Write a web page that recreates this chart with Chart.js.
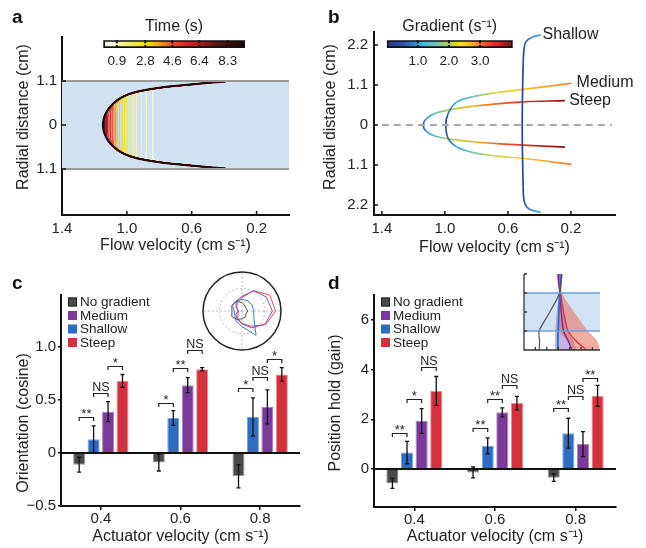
<!DOCTYPE html>
<html>
<head>
<meta charset="utf-8">
<script src="https://cdn.jsdelivr.net/npm/chart.js@4.4.1/dist/chart.umd.min.js"></script>
<style>
body { margin: 0; background: #fff; }
#fig { position: relative; width: 646px; height: 548px; overflow: hidden; font-family: "Liberation Sans", Arial, sans-serif; }
canvas { position: absolute; }
.lbl { position: absolute; font-weight: bold; font-size: 19px; line-height: 19px; color: #111; }
</style>
</head>
<body>
<div id="fig">
  <canvas id="chartA" width="320" height="270" style="left:0;top:0"></canvas>
  <canvas id="chartB" width="336" height="270" style="left:310px;top:0"></canvas>
  <canvas id="chartC" width="320" height="278" style="left:0;top:270px"></canvas>
  <canvas id="chartD" width="336" height="278" style="left:310px;top:270px"></canvas>
  <canvas id="barA" width="170" height="56" style="left:90px;top:14px"></canvas>
  <canvas id="barB" width="160" height="56" style="left:370px;top:14px"></canvas>
  <canvas id="polarC" width="84" height="84" style="left:200px;top:269px"></canvas>
  <canvas id="insetD" width="92" height="90" style="left:514px;top:266px"></canvas>
  <div class="lbl" style="left:12px;top:7px">a</div>
  <div class="lbl" style="left:328px;top:7px">b</div>
  <div class="lbl" style="left:12px;top:273px">c</div>
  <div class="lbl" style="left:328px;top:273px">d</div>
</div>
<script>
// ---- panel a: velocity profiles over time
const timeSteps = [0.3, 0.6, 0.9, 1.2, 1.5, 1.8, 2.1, 2.4, 2.7, 3.0, 3.4, 3.8, 4.2, 4.6, 5.0, 5.5, 6.0, 6.5, 7.0, 7.6, 8.3, 9.0];
const frontVel = [0.84, 0.88, 0.91, 0.94, 0.96, 0.98, 1.0, 1.015, 1.03, 1.045, 1.06, 1.07, 1.08, 1.09, 1.10, 1.11, 1.12, 1.125, 1.13, 1.138, 1.143, 1.15];
const profileR = [1.09, 1.02, 0.93, 0.83, 0.71, 0.54, 0.33, 0.15, 0, -0.15, -0.33, -0.54, -0.71, -0.83, -0.93, -1.02, -1.09];
const profileV = [0.39, 0.59, 0.80, 0.94, 1.023, 1.084, 1.125, 1.143, 1.148, 1.143, 1.125, 1.084, 1.023, 0.94, 0.80, 0.59, 0.39];
const timeTicks = [0.9, 2.8, 4.6, 6.4, 8.3];
const velTicks = [1.4, 1.0, 0.6, 0.2];

// ---- panel b: gradient profiles
const shallowR = [2.48, 2.41, 2.29, 2.06, 1.7, 0, -1.7, -2.06, -2.25, -2.34, -2.4];
const shallowV = [0.39, 0.45, 0.486, 0.498, 0.503, 0.509, 0.503, 0.498, 0.481, 0.45, 0.39];
const shallowG = [1.15, 0.9, 0.6, 0.35, 0.3, 0.3, 0.3, 0.35, 0.6, 0.9, 1.15];
const mediumR = [1.15, 0.98, 0.89, 0.78, 0.63, 0.32, 0, -0.37, -0.6, -0.76, -0.85, -0.92, -1.08];
const mediumV = [0.196, 0.503, 0.672, 0.82, 0.926, 0.979, 0.994, 0.979, 0.926, 0.82, 0.672, 0.503, 0.196];
const mediumG = [3.0, 2.55, 2.2, 1.6, 1.1, 0.6, 0.4, 0.6, 1.1, 1.6, 2.2, 2.55, 3.0];
const steepR = [0.67, 0.64, 0.58, 0.52, 0.41, 0.32, 0.18, 0, -0.18, -0.30, -0.38, -0.46, -0.51, -0.55, -0.61];
const steepV = [0.238, 0.503, 0.672, 0.82, 0.979, 1.063, 1.116, 1.138, 1.116, 1.063, 0.979, 0.82, 0.672, 0.503, 0.238];
const steepG = [4.0, 3.4, 3.1, 2.7, 2.0, 1.4, 1.0, 0.5, 1.0, 1.4, 2.0, 2.7, 3.1, 3.4, 4.0];
const gradTicks = [1.0, 2.0, 3.0];

// ---- panels c, d: bars
const speedLabels = ['0.4', '0.6', '0.8'];
const seriesNames = ['No gradient', 'Shallow', 'Medium', 'Steep'];
const orientNoGrad = [-0.11, -0.09, -0.22];
const orientShallow = [0.13, 0.33, 0.34];
const orientMedium = [0.39, 0.64, 0.435];
const orientSteep = [0.68, 0.79, 0.74];
const orientErrNoGrad = [0.07, 0.08, 0.11];
const orientErrShallow = [0.125, 0.07, 0.18];
const orientErrMedium = [0.095, 0.07, 0.16];
const orientErrSteep = [0.06, 0.015, 0.065];
// [category, left series, right series, bracket height, label]
const orientSig = [[0, 0, 1, 0.34, '**'], [0, 1, 2, 0.57, 'NS'], [0, 2, 3, 0.82, '*'],
                   [1, 0, 1, 0.47, '*'], [1, 1, 2, 0.80, '**'], [1, 2, 3, 0.97, 'NS'],
                   [2, 0, 1, 0.61, '*'], [2, 1, 2, 0.72, 'NS'], [2, 2, 3, 0.89, '*']];
const holdNoGrad = [-0.58, -0.14, -0.35];
const holdShallow = [0.66, 0.93, 1.44];
const holdMedium = [1.93, 2.28, 1.0];
const holdSteep = [3.14, 2.65, 2.94];
const holdErrNoGrad = [0.2, 0.22, 0.15];
const holdErrShallow = [0.45, 0.32, 0.6];
const holdErrMedium = [0.5, 0.18, 0.5];
const holdErrSteep = [0.58, 0.27, 0.42];
const holdSig = [[0, 0, 1, 1.44, '**'], [0, 1, 2, 2.82, '*'], [0, 2, 3, 4.1, 'NS'],
                 [1, 0, 1, 1.64, '**'], [1, 1, 2, 2.82, '**'], [1, 2, 3, 3.38, 'NS'],
                 [2, 0, 1, 2.44, '**'], [2, 1, 2, 2.95, 'NS'], [2, 2, 3, 3.65, '**']];

// ---- inset c: orientation distributions (clockwise from right)
const polarDirs = ['0', '-30', '-60', '-90', '-120', '-150', '180', '150', '120', '90', '60', '30'];
const polarNoGrad = [0.15, 0.12, 0.18, 0.2, 0.25, 0.3, 0.26, 0.3, 0.28, 0.22, 0.15, 0.12];
const polarShallow = [0.3, 0.35, 0.72, 0.4, 0.3, 0.22, 0.2, 0.28, 0.3, 0.3, 0.3, 0.3];
const polarMedium = [0.78, 0.68, 0.5, 0.33, 0.25, 0.18, 0.1, 0.15, 0.25, 0.35, 0.6, 0.72];
const polarSteep = [0.86, 0.7, 0.45, 0.32, 0.22, 0.12, 0.08, 0.18, 0.3, 0.38, 0.6, 0.82];

// ---- inset d: tracks
const insetY = [0, 0.5, 1, 2, 3, 3.5, 4];
const trackNoGrad = [2.0, 2.05, 2.0, 3.4, 4.7, 4.85, 5.0];
const trackShallow = [4.45, 4.45, 4.5, 4.6, 4.7, 4.8, 4.9];
const trackMedium = [6.3, 5.8, 5.2, 4.9, 4.75, 4.6, 4.5];
const trackSteep = [8.2, 6.8, 5.8, 5.2, 4.8, 4.8, 4.7];
const bandMediumLo = [4.1, 4.1, 4.1, 4.3, 4.6, 4.4, 4.3];
const bandMediumHi = [6.9, 6.5, 5.8, 5.4, 4.9, 4.8, 4.7];
const bandSteepLo = [6.5, 5.6, 4.7, 4.7, 4.6, 4.5, 4.5];
const bandSteepHi = [10, 9.6, 8.4, 6.6, 5.0, 5.0, 5.0];

const FONT = '"Liberation Sans", Arial, Helvetica, sans-serif';
Chart.defaults.font.family = FONT;
Chart.defaults.font.size = 15;
Chart.defaults.color = '#222';
Chart.defaults.animation = false;
Chart.defaults.responsive = false;
Chart.defaults.events = [];
Chart.defaults.plugins.legend.display = false;
Chart.defaults.plugins.tooltip.enabled = false;
Chart.defaults.elements.point.radius = 0;

const hotStops = [[0, '#ffffff'], [0.9, '#fbf4b8'], [1.9, '#f4ea5a'], [2.8, '#f1e000'], [3.6, '#f6ad17'],
  [4.6, '#ea4d23'], [5.5, '#dc2227'], [6.4, '#b01c1f'], [7.5, '#621214'], [9.45, '#140606']];
const jetStops = [[0, '#283382'], [0.5, '#2c4fa6'], [0.9, '#3a8ad6'], [1.2, '#44bce9'], [1.6, '#72c7b1'],
  [2.0, '#aed24b'], [2.4, '#f3e11c'], [2.8, '#f8a52a'], [3.2, '#ef4b2c'], [3.6, '#d32127'], [4.05, '#7c1416']];

function hexRgb(h) { return [1, 3, 5].map(i => parseInt(h.slice(i, i + 2), 16)); }
function mapColor(stops, v) {
  if (v <= stops[0][0]) return stops[0][1];
  for (let i = 1; i < stops.length; i++) {
    if (v <= stops[i][0]) {
      const t = (v - stops[i - 1][0]) / (stops[i][0] - stops[i - 1][0]);
      const a = hexRgb(stops[i - 1][1]), b = hexRgb(stops[i][1]);
      return 'rgb(' + a.map((c, k) => Math.round(c + (b[k] - c) * t)).join(',') + ')';
    }
  }
  return stops[stops.length - 1][1];
}
function fixTicks(vals) { return s => { s.ticks = vals.map(v => ({ value: v })); }; }
function axisTitle(text, pad) { return { display: true, text: text, font: { size: 16 }, color: '#222', padding: pad }; }

// rotated y-axis title, centred where the figure puts it
function yTitle(text, cx, cy) {
  return {
    id: 'yTitle',
    afterDraw(chart) {
      const ctx = chart.ctx;
      ctx.save();
      ctx.translate(cx, cy); ctx.rotate(-Math.PI / 2);
      ctx.font = '16px ' + FONT; ctx.fillStyle = '#222'; ctx.textAlign = 'center'; ctx.textBaseline = 'middle';
      ctx.fillText(text, 0, 0);
      ctx.restore();
    }
  };
}

// small inward tick marks (and optional axis lines)
function innerTicks(o) {
  return {
    id: 'innerTicks',
    afterDatasetsDraw(chart) {
      const { ctx, chartArea: a, scales } = chart;
      ctx.save();
      ctx.strokeStyle = o.color || '#111';
      ctx.lineWidth = o.width || 1.5;
      ctx.beginPath();
      if (o.axes) {
        ctx.moveTo(a.left, a.top); ctx.lineTo(a.left, a.bottom); ctx.lineTo(a.right, a.bottom);
      }
      (o.x || []).forEach(v => {
        const px = scales.x.getPixelForValue(v);
        ctx.moveTo(px, a.bottom); ctx.lineTo(px, a.bottom - o.len);
        if (o.both) { ctx.moveTo(px, a.top); ctx.lineTo(px, a.top + o.len); }
      });
      (o.y || []).forEach(v => {
        const py = scales.y.getPixelForValue(v);
        ctx.moveTo(a.left, py); ctx.lineTo(a.left + o.len, py);
      });
      ctx.stroke();
      ctx.restore();
    }
  };
}

function gradientFill(chart, stops, maxVal) {
  const a = chart.chartArea;
  if (!a) return stops[0][1];
  const g = chart.ctx.createLinearGradient(a.left, 0, a.right, 0);
  stops.forEach(([v, c]) => g.addColorStop(v / maxVal, c));
  return g;
}

function colorbar(id, maxVal, stops, ticks, title, padL, padR) {
  new Chart(document.getElementById(id), {
    type: 'bar',
    data: { labels: [''], datasets: [{ data: [maxVal], backgroundColor: c => gradientFill(c.chart, stops, maxVal),
      borderColor: '#111', borderWidth: 2, borderSkipped: false, barPercentage: 1, categoryPercentage: 1 }] },
    options: {
      indexAxis: 'y',
      layout: { padding: { left: padL, right: padR, top: 0, bottom: 0 } },
      scales: {
        x: { min: 0, max: maxVal, afterBuildTicks: fixTicks(ticks), afterFit: s => { s.height = 22; },
             grid: { display: false, drawTicks: false }, border: { display: false },
             ticks: { padding: 5, font: { size: 13.5 }, maxRotation: 0, callback: v => v.toFixed(1) } },
        y: { display: false }
      },
      plugins: { title: { display: true, text: title, font: { size: 16, weight: 'normal' }, color: '#222', padding: { top: 3, bottom: 4 } } }
    },
    plugins: [innerTicks({ x: ticks, both: true, len: 3, width: 2 })]
  });
}

// ---- chart a
const aSets = [];
aSets.push({ data: [{ x: 0, y: 1.1 }, { x: 1.4, y: 1.1 }], fill: { value: -1.1 }, backgroundColor: '#d0e2f1', borderWidth: 0, order: 1000 });
aSets.push({ data: [{ x: 0, y: 1.1 }, { x: 1.4, y: 1.1 }], borderColor: '#9a9a9a', borderWidth: 2, order: 0 });
aSets.push({ data: [{ x: 0, y: -1.1 }, { x: 1.4, y: -1.1 }], borderColor: '#9a9a9a', borderWidth: 2, order: 0 });
timeSteps.forEach((t, i) => {
  aSets.push({
    data: profileR.map((r, k) => ({ x: Math.min(profileV[k], frontVel[i]), y: r })),
    borderColor: mapColor(hotStops, t), borderWidth: i === timeSteps.length - 1 ? 2 : 1.2,
    tension: 0.3, fill: false, order: timeSteps.length - i + 1
  });
});
new Chart(document.getElementById('chartA'), {
  type: 'line',
  data: { datasets: aSets },
  options: {
    layout: { padding: { top: 37, right: 31, left: 0, bottom: 0 } },
    scales: {
      x: { type: 'linear', reverse: true, min: 0, max: 1.4, afterBuildTicks: fixTicks(velTicks), afterFit: s => { s.height = 55; },
           grid: { display: false, drawTicks: false }, border: { color: '#111', width: 2 },
           ticks: { padding: 5, maxRotation: 0, callback: v => v.toFixed(1) },
           title: axisTitle('Flow velocity (cm s⁻¹)', { top: 0, bottom: 14.4 }) },
      y: { type: 'linear', min: -2.25, max: 2.2, afterBuildTicks: fixTicks([1.1, 0, -1.1]), afterFit: s => { s.width = 62; },
           grid: { display: false, drawTicks: false }, border: { color: '#111', width: 2 },
           ticks: { padding: 5, callback: v => v === 0 ? '0' : Math.abs(v).toFixed(1) } }
    }
  },
  plugins: [innerTicks({ x: velTicks, y: [1.1, 0, -1.1], len: 4 }), yTitle('Radial distance (cm)', 23.5, 117)]
});
colorbar('barA', 9.45, hotStops, timeTicks, 'Time (s)', 13.3, 15);

// ---- chart b
function gradLine(rs, vs, gs) {
  return {
    data: rs.map((r, k) => ({ x: vs[k], y: r })), borderWidth: 1.7, tension: 0.4, fill: false,
    borderColor: mapColor(jetStops, gs[0]),
    segment: {
      borderColor: c => {
        const g = c.chart.ctx.createLinearGradient(c.p0.x, c.p0.y, c.p1.x, c.p1.y);
        g.addColorStop(0, mapColor(jetStops, gs[c.p0DataIndex]));
        g.addColorStop(1, mapColor(jetStops, gs[c.p1DataIndex]));
        return g;
      },
      borderDashOffset: c => c.p0DataIndex * 0.001
    }
  };
}
const curveLabels = {
  id: 'curveLabels',
  afterDatasetsDraw(chart) {
    const { ctx, scales } = chart;
    ctx.save();
    ctx.font = '16px ' + FONT; ctx.fillStyle = '#222'; ctx.textBaseline = 'middle'; ctx.textAlign = 'left';
    [['Shallow', 0.38, 2.475], ['Medium', 0.164, 1.155], ['Steep', 0.211, 0.66]].forEach(([t, v, r]) => {
      ctx.fillText(t, scales.x.getPixelForValue(v), scales.y.getPixelForValue(r));
    });
    ctx.restore();
  }
};
new Chart(document.getElementById('chartB'), {
  type: 'line',
  data: { datasets: [
    { data: [{ x: 1.4, y: 0 }, { x: -0.06, y: 0 }], borderColor: '#a8a8a8', borderWidth: 2, borderDash: [7, 5], fill: false },
    gradLine(shallowR, shallowV, shallowG),
    gradLine(mediumR, mediumV, mediumG),
    gradLine(steepR, steepV, steepG)
  ] },
  options: {
    layout: { padding: { top: 32, right: 31, left: 0, bottom: 0 } },
    scales: {
      x: { type: 'linear', reverse: true, min: -0.08, max: 1.45, afterBuildTicks: fixTicks(velTicks), afterFit: s => { s.height = 55; },
           grid: { display: false, drawTicks: false }, border: { color: '#111', width: 2 },
           ticks: { padding: 5, maxRotation: 0, callback: v => v.toFixed(1) },
           title: axisTitle('Flow velocity (cm s⁻¹)', { top: 0, bottom: 12.4 }) },
      y: { type: 'linear', min: -2.475, max: 2.56, afterBuildTicks: fixTicks([2.2, 1.1, 0, -1.1, -2.2]), afterFit: s => { s.width = 64; },
           grid: { display: false, drawTicks: false }, border: { color: '#111', width: 2 },
           ticks: { padding: 6, callback: v => v === 0 ? '0' : Math.abs(v).toFixed(1) } }
    }
  },
  plugins: [innerTicks({ x: velTicks, y: [2.2, 1.1, 0, -1.1, -2.2], len: 4 }), curveLabels, yTitle('Radial distance (cm)', 20.5, 117)]
});
colorbar('barB', 4.05, jetStops, gradTicks, 'Gradient (s⁻¹)', 16.7, 17.3);

// ---- bar charts c, d
const barFill = ['#4a4a4a', '#2d6cc0', '#7b3a9a', '#d4303e'];
const barEdge = ['#9a9a9a', '#79a2db', '#a983c2', '#e98a90'];
function barSets(vals, errs) {
  return vals.map((v, i) => ({ label: seriesNames[i], data: v, errs: errs[i], backgroundColor: barFill[i], borderColor: barEdge[i],
    borderWidth: 1, barPercentage: 0.83, categoryPercentage: 0.725 }));
}
const errorBars = {
  id: 'errorBars',
  afterDatasetsDraw(chart) {
    const { ctx, chartArea: a } = chart; const ys = chart.scales.y;
    ctx.save();
    const y0 = ys.getPixelForValue(0);
    ctx.strokeStyle = '#111'; ctx.lineWidth = 2;
    ctx.beginPath(); ctx.moveTo(a.left, y0); ctx.lineTo(a.right, y0); ctx.stroke();
    ctx.lineWidth = 1.3;
    chart.data.datasets.forEach((ds, di) => {
      chart.getDatasetMeta(di).data.forEach((bar, i) => {
        const top = ys.getPixelForValue(ds.data[i] + ds.errs[i]), bot = ys.getPixelForValue(ds.data[i] - ds.errs[i]);
        ctx.beginPath();
        ctx.moveTo(bar.x, top); ctx.lineTo(bar.x, bot);
        ctx.moveTo(bar.x - 2, top); ctx.lineTo(bar.x + 2, top);
        ctx.moveTo(bar.x - 2, bot); ctx.lineTo(bar.x + 2, bot);
        ctx.stroke();
      });
    });
    ctx.restore();
  }
};
function sigBrackets(items) {
  return {
    id: 'sigBrackets',
    afterDatasetsDraw(chart) {
      const { ctx } = chart; const ys = chart.scales.y;
      ctx.save();
      ctx.strokeStyle = '#222'; ctx.fillStyle = '#222'; ctx.lineWidth = 1.2; ctx.textAlign = 'center'; ctx.textBaseline = 'alphabetic';
      items.forEach(([cat, d0, d1, val, txt]) => {
        const x0 = chart.getDatasetMeta(d0).data[cat].x, x1 = chart.getDatasetMeta(d1).data[cat].x;
        const y = Math.round(ys.getPixelForValue(val)) + 0.5;
        ctx.beginPath(); ctx.moveTo(x0, y + 3.5); ctx.lineTo(x0, y); ctx.lineTo(x1, y); ctx.lineTo(x1, y + 3.5); ctx.stroke();
        if (txt === 'NS') { ctx.font = '12.5px ' + FONT; ctx.fillText(txt, (x0 + x1) / 2, y - 2.5); }
        else { ctx.font = '13px ' + FONT; ctx.fillText(txt, (x0 + x1) / 2, y + 0.5); }
      });
      ctx.restore();
    }
  };
}
function boxLegend(order, dx, dy, rowH) {
  return {
    id: 'boxLegend',
    afterDraw(chart) {
      const { ctx, chartArea: a } = chart;
      ctx.save();
      ctx.font = '13.5px ' + FONT; ctx.textBaseline = 'middle'; ctx.textAlign = 'left';
      order.forEach((di, k) => {
        const ds = chart.data.datasets[di];
        const x = a.left + dx, y = a.top + dy + k * rowH;
        ctx.fillStyle = ds.backgroundColor; ctx.fillRect(x, y - 4.5, 9, 9);
        if (di === 0) { ctx.strokeStyle = '#222'; ctx.lineWidth = 1; ctx.strokeRect(x + 0.5, y - 4, 8, 8); }
        ctx.fillStyle = '#222'; ctx.fillText(ds.label, x + 12, y + 0.5);
      });
      ctx.restore();
    }
  };
}
function barChart(id, datasets, yMin, yMax, yTicks, fmt, title, sig, opts) {
  new Chart(document.getElementById(id), {
    type: 'bar',
    data: { labels: speedLabels, datasets: datasets },
    options: {
      layout: { padding: { top: 25, right: opts.right, left: 0, bottom: 0 } },
      scales: {
        x: { grid: { display: true, drawOnChartArea: false, offset: false, tickLength: 4, color: '#111', lineWidth: 1.5 },
             border: { color: '#111', width: 2 }, ticks: { padding: 0 }, afterFit: s => { s.height = opts.xh; },
             title: axisTitle('Actuator velocity (cm s⁻¹)', { top: 0, bottom: 1.4 }) },
        y: { min: yMin, max: yMax, afterBuildTicks: fixTicks(yTicks), afterFit: s => { s.width = opts.yw; },
             grid: { display: true, drawOnChartArea: false, tickLength: 3, color: '#111', lineWidth: 1.5 },
             border: { color: '#111', width: 2 }, ticks: { padding: 2, callback: fmt } }
      }
    },
    plugins: [errorBars, sigBrackets(sig), boxLegend([0, 2, 1, 3], 7, 7, 13.5), yTitle(title, opts.tx, opts.ty)]
  });
}
barChart('chartC', barSets([orientNoGrad, orientShallow, orientMedium, orientSteep], [orientErrNoGrad, orientErrShallow, orientErrMedium, orientErrSteep]),
  -0.5, 1.49, [-0.5, 0, 0.5, 1.0], v => v === 0 ? '0' : (v < 0 ? '\u2212' : '') + Math.abs(v).toFixed(1),
  'Orientation (cosine)', orientSig, { right: 20, xh: 42, yw: 61, tx: 23.5, ty: 153 });
barChart('chartD', barSets([holdNoGrad, holdShallow, holdMedium, holdSteep], [holdErrNoGrad, holdErrShallow, holdErrMedium, holdErrSteep]),
  -1.53, 7.0, [0, 2, 4, 6], v => String(v),
  'Position hold (gain)', holdSig, { right: 30, xh: 41, yw: 64, tx: 25.5, ty: 133 });

// ---- inset c: polar
new Chart(document.getElementById('polarC'), {
  type: 'radar',
  data: { labels: polarDirs, datasets: [
    { data: polarNoGrad, borderColor: '#555', borderWidth: 1, fill: false },
    { data: polarShallow, borderColor: '#3d7fd0', borderWidth: 1, fill: false },
    { data: polarMedium, borderColor: '#8b50b0', borderWidth: 1, fill: false },
    { data: polarSteep, borderColor: '#e4485c', borderWidth: 1, fill: false }
  ] },
  options: {
    layout: { padding: 3 },
    elements: { line: { tension: 0 } },
    scales: { r: {
      min: 0, max: 1, startAngle: 90, afterBuildTicks: fixTicks([0, 0.58, 1]),
      ticks: { display: false }, pointLabels: { display: false },
      grid: { circular: true, color: c => c.tick && c.tick.value === 1 ? '#222' : '#bdbdbd', lineWidth: c => c.tick && c.tick.value === 1 ? 1.5 : 1 },
      border: { dash: c => c.tick && c.tick.value === 1 ? [] : [2, 2] },
      angleLines: { display: true, color: c => c.index % 3 === 0 ? '#bdbdbd' : 'rgba(0,0,0,0)', lineWidth: c => c.index % 3 === 0 ? 1 : 0, borderDash: [2, 2] }
    } }
  }
});

// ---- inset d: tracks
function bandShape(lo, hi, color) {
  const pts = insetY.map((y, k) => ({ x: lo[k], y: y }));
  for (let k = insetY.length - 1; k >= 0; k--) pts.push({ x: hi[k], y: insetY[k] });
  return { data: pts, fill: 'shape', backgroundColor: color, borderWidth: 0, tension: 0.3, order: 50 };
}
function track(xs, color, w) {
  return { data: insetY.map((y, k) => ({ x: xs[k], y: y })), borderColor: color, borderWidth: w, tension: 0.3, fill: false, order: 1 };
}
new Chart(document.getElementById('insetD'), {
  type: 'line',
  data: { datasets: [
    { data: [{ x: 0, y: 3 }, { x: 10, y: 3 }], fill: { value: 1 }, backgroundColor: '#d0e2f3', borderWidth: 0, order: 100 },
    { data: [{ x: 0, y: 3 }, { x: 10, y: 3 }], borderColor: '#6f9fd8', borderWidth: 1.5, order: 0 },
    { data: [{ x: 0, y: 1 }, { x: 10, y: 1 }], borderColor: '#6f9fd8', borderWidth: 1.5, order: 0 },
    bandShape(bandSteepLo, bandSteepHi, 'rgba(232,118,100,0.6)'),
    bandShape(bandMediumLo, bandMediumHi, 'rgba(165,125,205,0.6)'),
    track(trackNoGrad, '#555', 1.2),
    track(trackShallow, '#2d6cc0', 1.8),
    track(trackSteep, '#d83040', 1.2),
    track(trackMedium, '#6a2c9a', 1.4)
  ] },
  options: {
    layout: { padding: { left: 10, top: 8, right: 6, bottom: 6 } },
    scales: { x: { type: 'linear', min: 0, max: 10, display: false }, y: { type: 'linear', min: 0, max: 4, display: false } }
  },
  plugins: [innerTicks({ axes: true, x: [1.5, 3, 4.5, 6, 7.5, 9], y: [1, 2, 3, 4], len: 3, color: '#333', width: 1.3 })]
});
</script>
</body>
</html>
